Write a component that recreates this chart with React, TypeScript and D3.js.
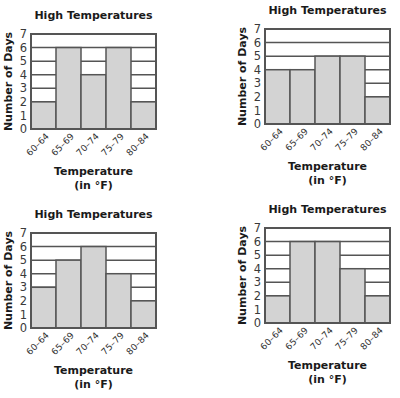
import React from "react";
import { scaleBand, scaleLinear, range } from "d3";

// bins shared by all four histograms
const bins = ["60–64", "65–69", "70–74", "75–79", "80–84"];
const yTicks = [0, 1, 2, 3, 4, 5, 6, 7];

// number of days per bin, one list per panel
const daysA = [2, 6, 4, 6, 2];
const daysB = [4, 4, 5, 5, 2];
const daysC = [3, 5, 6, 4, 2];
const daysD = [2, 6, 6, 4, 2];

const title = "High Temperatures";
const yTitle = "Number of Days";
const xTitle = ["Temperature", "(in °F)"];

const FONT = "'DejaVu Sans', Verdana, sans-serif";
const INK = "#555";

function Histogram({ values, x0, y0 }: { values: number[]; x0: number; y0: number }) {
  const left = 31;
  const top = 34;
  const width = 125;
  const height = 95;

  const xScale = scaleBand().domain(bins).range([left, left + width]).padding(0);
  const yScale = scaleLinear().domain([0, 7]).range([top + height, top]);
  const cx = left + width / 2;

  return (
    <g transform={`translate(${x0}, ${y0})`}>
      <text x={cx} y={19} textAnchor="middle" fontFamily={FONT} fontWeight="bold" fontSize={11} fill="#1a1a1a">
        {title}
      </text>

      {/* grid lines behind the bars */}
      {range(1, 7).map(v => (
        <line key={v} x1={left} x2={left + width} y1={yScale(v)} y2={yScale(v)} stroke={INK} strokeWidth={1.5} />
      ))}

      {values.map((v, i) => (
        <rect
          key={bins[i]}
          x={xScale(bins[i])}
          width={xScale.bandwidth()}
          y={yScale(v)}
          height={yScale(0) - yScale(v)}
          fill="#d3d3d3"
          stroke={INK}
          strokeWidth={1.5}
        />
      ))}

      <rect x={left} y={top} width={width} height={height} fill="none" stroke={INK} strokeWidth={2} />

      {yTicks.map(t => (
        <text key={t} x={left - 4} y={yScale(t)} dy="0.36em" textAnchor="end" fontFamily={FONT} fontSize={11.5} fill="#3a3a3a">
          {t}
        </text>
      ))}

      {bins.map(b => {
        const bx = (xScale(b) as number) + xScale.bandwidth() / 2 + 6;
        const by = top + height + 8;
        return (
          <text key={b} transform={`translate(${bx}, ${by}) rotate(-45)`} textAnchor="end" fontFamily={FONT} fontSize={9} fill="#333">
            {b}
          </text>
        );
      })}

      <text transform={`translate(12, ${top + height / 2}) rotate(-90)`} textAnchor="middle" fontFamily={FONT} fontWeight="bold" fontSize={11} fill="#1a1a1a">
        {yTitle}
      </text>

      <text x={cx} y={175} textAnchor="middle" fontFamily={FONT} fontWeight="bold" fontSize={11} fill="#1a1a1a">
        {xTitle[0]}
      </text>
      <text x={cx} y={189} textAnchor="middle" fontFamily={FONT} fontWeight="bold" fontSize={11} fill="#1a1a1a">
        {xTitle[1]}
      </text>
    </g>
  );
}

export default function App() {
  return (
    <svg width={400} height={398} style={{ position: "absolute", left: 0, top: 0, background: "#fff" }}>
      <Histogram values={daysA} x0={0} y0={0} />
      <Histogram values={daysB} x0={234} y0={-5} />
      <Histogram values={daysC} x0={0} y0={199} />
      <Histogram values={daysD} x0={234} y0={194} />
    </svg>
  );
}
